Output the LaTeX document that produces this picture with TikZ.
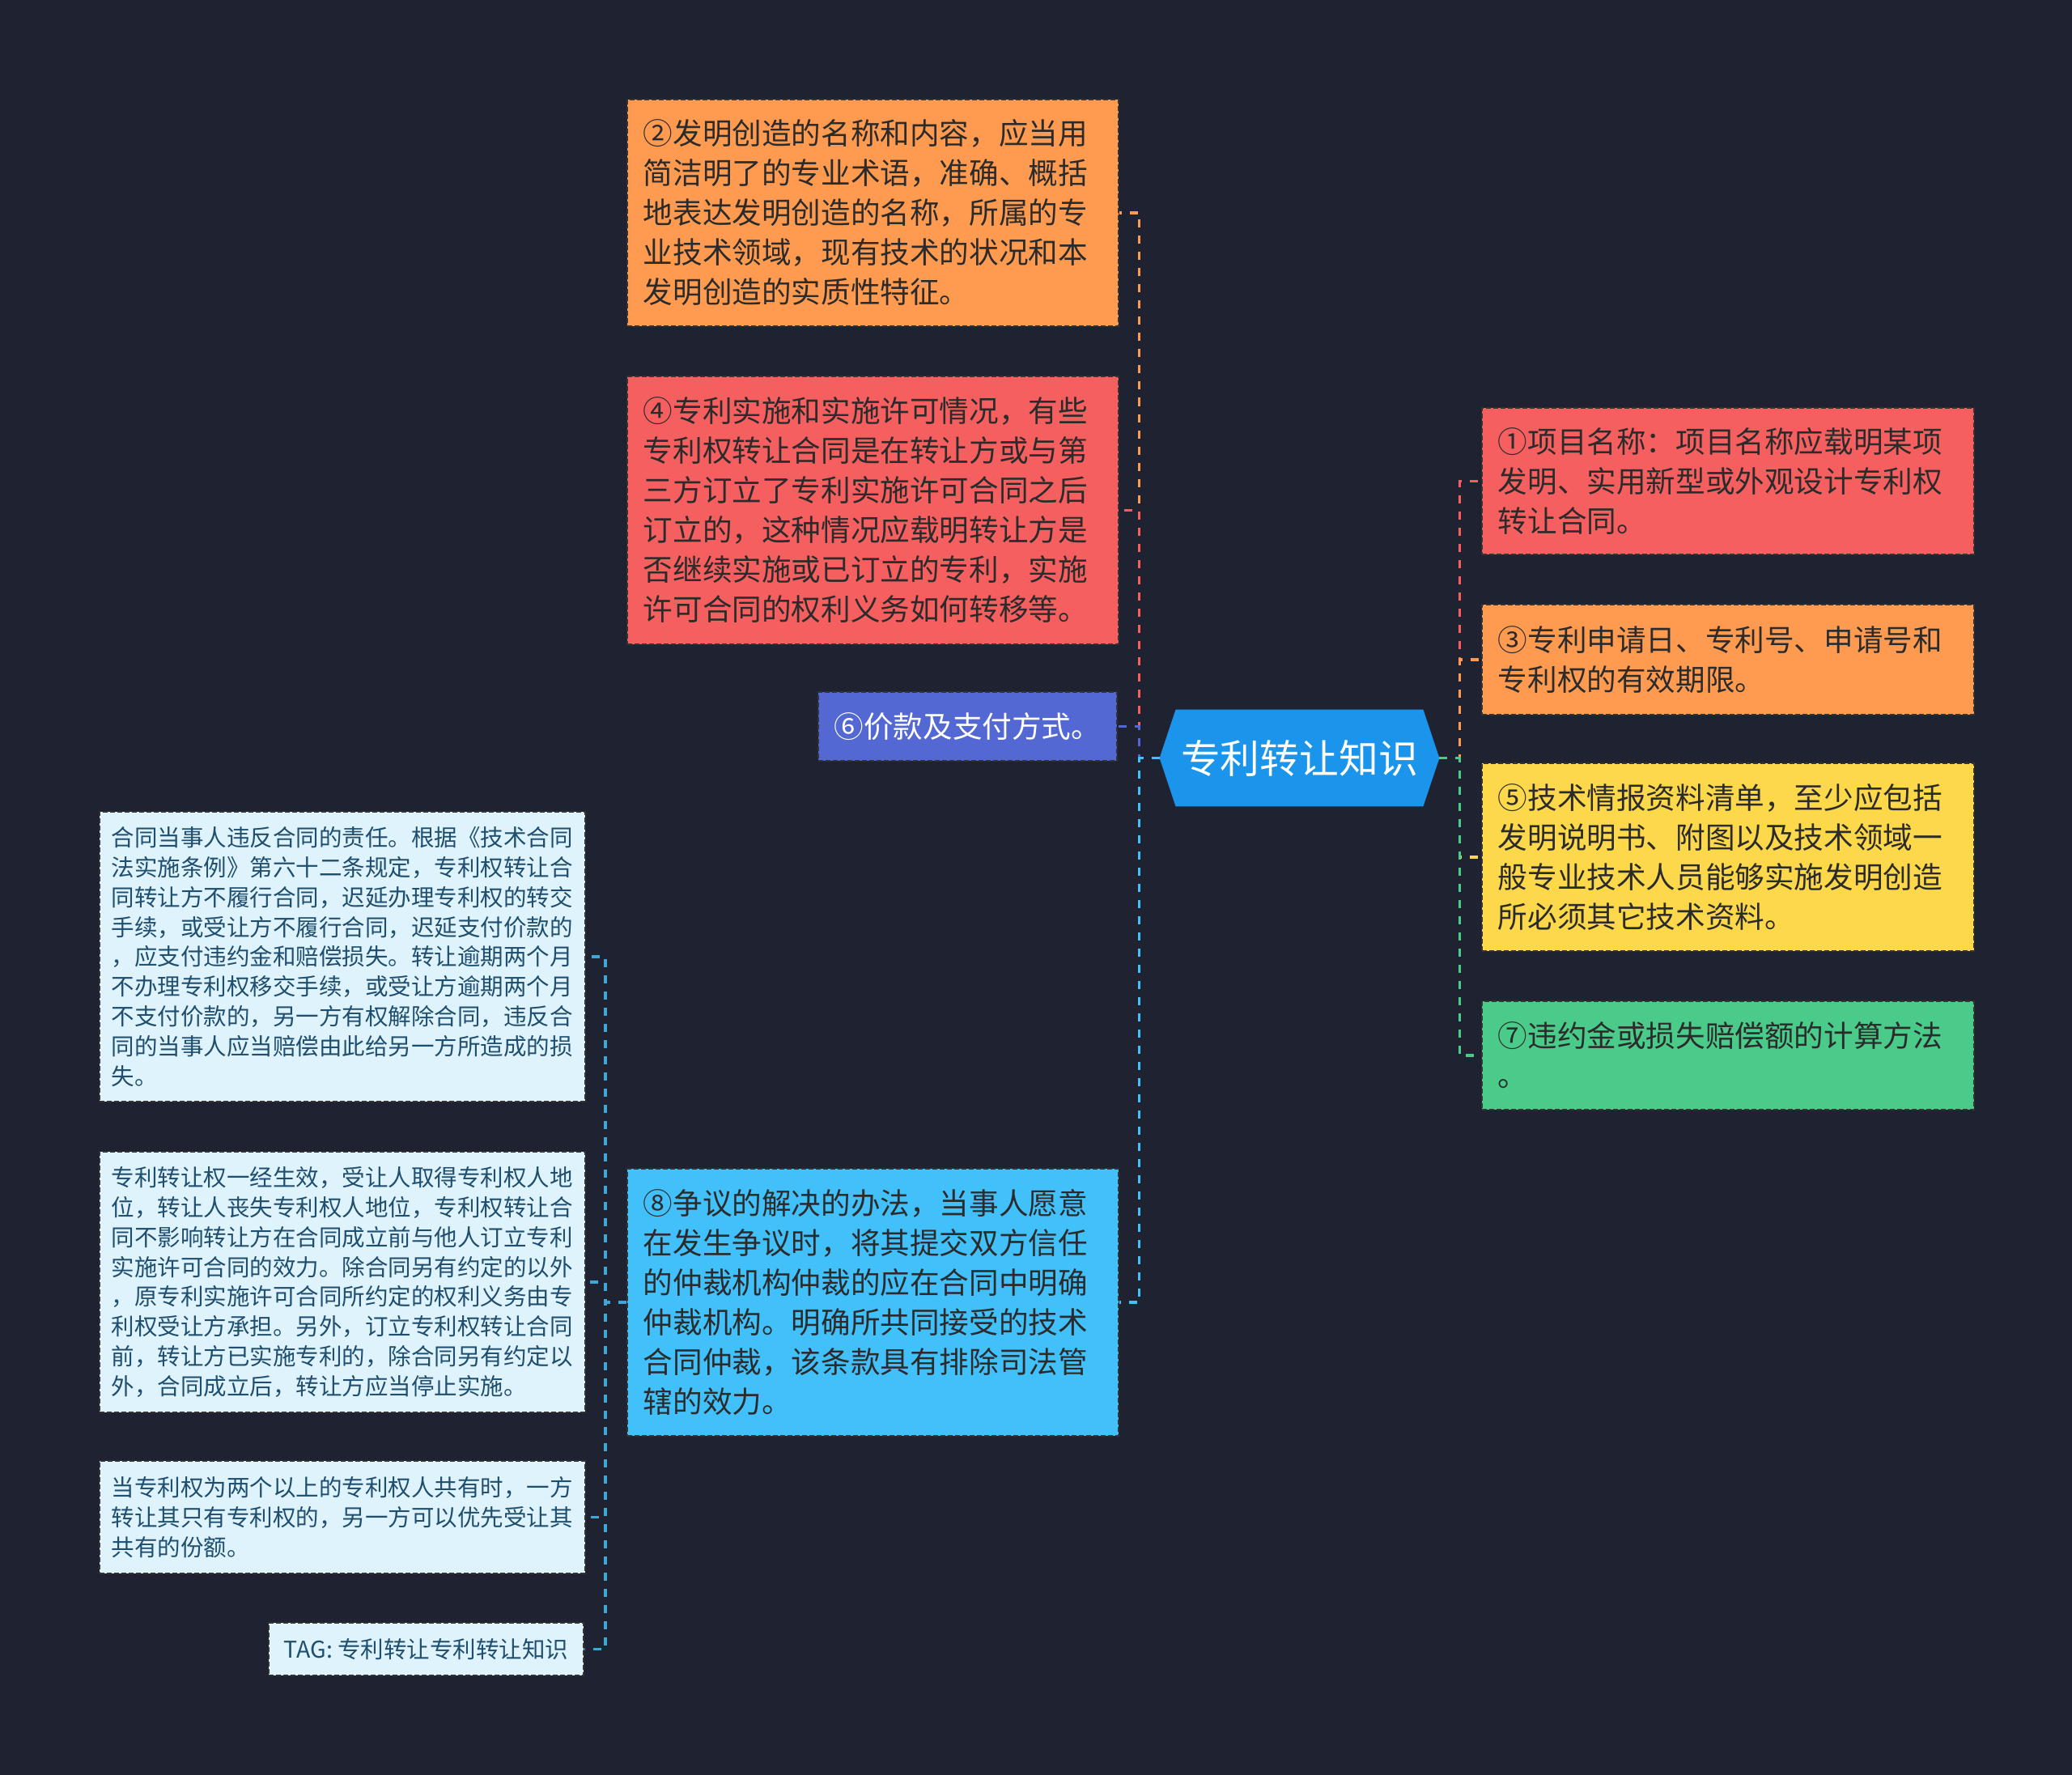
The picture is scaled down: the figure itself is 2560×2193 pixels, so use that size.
\documentclass[tikz,border=0pt]{standalone}
\usepackage{fontspec}
\setmainfont{Noto Sans CJK SC}
\usetikzlibrary{calc}
\definecolor{bg}{HTML}{1F2230}
\definecolor{corange}{HTML}{FE9B50}
\definecolor{cred}{HTML}{F65F5F}
\definecolor{cpurple}{HTML}{5468D4}
\definecolor{cblue}{HTML}{42C0FA}
\definecolor{ccenter}{HTML}{1B95EC}
\definecolor{cyellow}{HTML}{FDD84B}
\definecolor{cgreen}{HTML}{4BCB8A}
\definecolor{clight}{HTML}{DEF3FC}
\definecolor{clightline}{HTML}{3FA7D6}
\definecolor{cdarktext}{HTML}{2B2B2B}
\definecolor{cnavytext}{HTML}{1F4E6E}
\definecolor{cborder}{HTML}{333333}
\tikzset{
  bigbox/.style={rectangle, draw=cborder, line width=0.9pt, dash pattern=on 3pt off 1.5pt,
    inner xsep=10pt, inner ysep=0pt, align=left, anchor=north west,
    text=cdarktext, font=\fontsize{18.3pt}{24.5pt}\selectfont},
  smallbox/.style={rectangle, draw=cborder, line width=0.9pt, dash pattern=on 3pt off 1.5pt,
    inner xsep=7.5pt, inner ysep=0pt, align=left, anchor=north west, fill=clight,
    text=cnavytext, font=\fontsize{14.25pt}{18.4pt}\selectfont,
    text width=285pt, minimum width=300pt},
  conn/.style={draw=#1, line width=1.8pt, dash pattern=on 5pt off 5pt},
}
\begin{document}
\begin{tikzpicture}[x=0.5pt,y=-0.5pt]
\fill[bg] (0,0) rectangle (2560,2193);
\useasboundingbox (0,0) rectangle (2560,2193);

% center node
\node[rectangle, minimum width=172.5pt, minimum height=59.5pt, inner sep=0pt] (c) at (1605.5,936.5) {};
\fill[ccenter] ($(c.north west)+(20,0)$) -- ($(c.north east)+(-20,0)$) -- (c.east)
  -- ($(c.south east)+(-20,0)$) -- ($(c.south west)+(20,0)$) -- (c.west) -- cycle;
\node[text=white, font=\fontsize{24.4pt}{28pt}\selectfont] at (c.center) {专利转让知识};

% left children
\node[bigbox, fill=corange, text width=283.5pt, minimum width=303.5pt, minimum height=140pt] (n2) at (774,122) {%
②发明创造的名称和内容，应当用\\
简洁明了的专业术语，准确、概括\\
地表达发明创造的名称，所属的专\\
业技术领域，现有技术的状况和本\\
发明创造的实质性特征。};

\node[bigbox, fill=cred, text width=283.5pt, minimum width=303.5pt, minimum height=165.5pt] (n4) at (774,464) {%
④专利实施和实施许可情况，有些\\
专利权转让合同是在转让方或与第\\
三方订立了专利实施许可合同之后\\
订立的，这种情况应载明转让方是\\
否继续实施或已订立的专利，实施\\
许可合同的权利义务如何转移等。};

\node[bigbox, fill=cpurple, text=white, anchor=east, minimum width=183.5pt, minimum height=42.5pt] (n6) at (1381,897.5) {⑥价款及支付方式。};

\node[bigbox, fill=cblue, text width=283.5pt, minimum width=303.5pt, minimum height=165pt] (n8) at (774,1443) {%
⑧争议的解决的办法，当事人愿意\\
在发生争议时，将其提交双方信任\\
的仲裁机构仲裁的应在合同中明确\\
仲裁机构。明确所共同接受的技术\\
合同仲裁，该条款具有排除司法管\\
辖的效力。};

% right children
\node[bigbox, fill=cred, text width=284pt, minimum width=304pt, minimum height=90.5pt] (n1) at (1830,503) {%
①项目名称：项目名称应载明某项\\
发明、实用新型或外观设计专利权\\
转让合同。};

\node[bigbox, fill=corange, text width=284pt, minimum width=304pt, minimum height=68pt] (n3) at (1830,746) {%
③专利申请日、专利号、申请号和\\
专利权的有效期限。};

\node[bigbox, fill=cyellow, text width=284pt, minimum width=304pt, minimum height=116pt] (n5) at (1830,942) {%
⑤技术情报资料清单，至少应包括\\
发明说明书、附图以及技术领域一\\
般专业技术人员能够实施发明创造\\
所必须其它技术资料。};

\node[bigbox, fill=cgreen, text width=284pt, minimum width=304pt, minimum height=67pt] (n7) at (1830,1236) {%
⑦违约金或损失赔偿额的计算方法\\
。};

% sub-children of n8
\node[smallbox, minimum height=179pt] (l1) at (122,1002) {%
合同当事人违反合同的责任。根据《技术合同\\
法实施条例》第六十二条规定，专利权转让合\\
同转让方不履行合同，迟延办理专利权的转交\\
手续，或受让方不履行合同，迟延支付价款的\\
，应支付违约金和赔偿损失。转让逾期两个月\\
不办理专利权移交手续，或受让方逾期两个月\\
不支付价款的，另一方有权解除合同，违反合\\
同的当事人应当赔偿由此给另一方所造成的损\\
失。};

\node[smallbox, minimum height=161pt] (l2) at (122,1422) {%
专利转让权一经生效，受让人取得专利权人地\\
位，转让人丧失专利权人地位，专利权转让合\\
同不影响转让方在合同成立前与他人订立专利\\
实施许可合同的效力。除合同另有约定的以外\\
，原专利实施许可合同所约定的权利义务由专\\
利权受让方承担。另外，订立专利权转让合同\\
前，转让方已实施专利的，除合同另有约定以\\
外，合同成立后，转让方应当停止实施。};

\node[smallbox, minimum height=69.5pt] (l3) at (122,1804) {%
当专利权为两个以上的专利权人共有时，一方\\
转让其只有专利权的，另一方可以优先受让其\\
共有的份额。};

\node[smallbox, anchor=east, text width=, minimum width=194.5pt, minimum height=32.5pt] (tag) at (722,2037.5) {TAG: 专利转让专利转让知识};

% connectors left
\draw[conn=corange] (c.west) -- ++(-25,0) |- (n2.east);
\draw[conn=cred] (c.west) -- ++(-25,0) |- (n4.east);
\draw[conn=cpurple] (c.west) -- ++(-25,0) |- (n6.east);
\draw[conn=cblue] (c.west) -- ++(-25,0) |- (n8.east);
% connectors right
\draw[conn=cred] (c.east) -- ++(25,0) |- (n1.west);
\draw[conn=corange] (c.east) -- ++(25,0) |- (n3.west);
\draw[conn=cyellow] (c.east) -- ++(25,0) |- (n5.west);
\draw[conn=cgreen] (c.east) -- ++(25,0) |- (n7.west);
% sub connectors
\draw[conn=clightline] (n8.west) -- ++(-26,0) |- (l1.east);
\draw[conn=clightline] (n8.west) -- ++(-26,0) |- (l2.east);
\draw[conn=clightline] (n8.west) -- ++(-26,0) |- (l3.east);
\draw[conn=clightline] (n8.west) -- ++(-26,0) |- (tag.east);
\end{tikzpicture}
\end{document}
